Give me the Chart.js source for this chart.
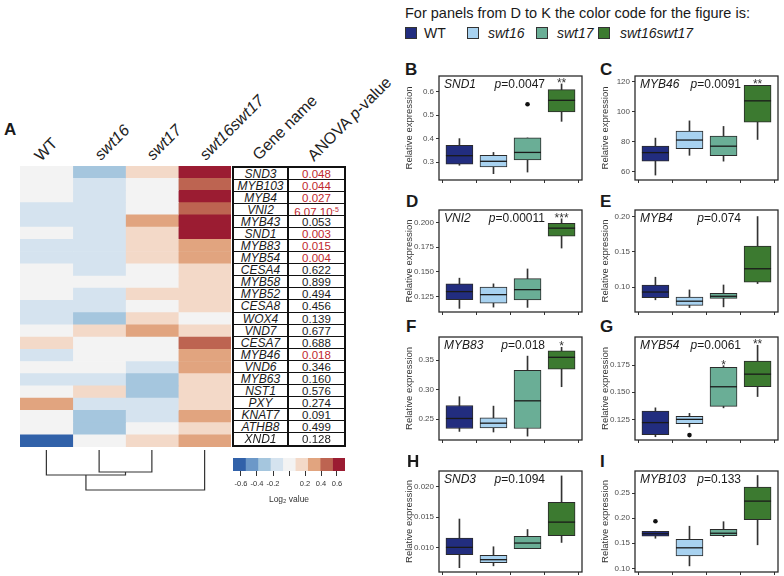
<!DOCTYPE html>
<html>
<head>
<meta charset="utf-8">
<script src="https://cdn.jsdelivr.net/npm/chart.js@4.4.1/dist/chart.umd.min.js"></script>
<style>
  body { margin: 0; width: 784px; height: 576px; position: relative; overflow: hidden; background: #fff;
         font-family: "Liberation Sans", Arial, Helvetica, sans-serif; color: #1a1a1a; }
  .abs { position: absolute; }
  canvas { position: absolute; }
  .hdr { position: absolute; font-size: 16px; line-height: 16px; white-space: nowrap; transform-origin: 0 100%; transform: rotate(-45deg); color: #222; }
  .letter { position: absolute; font-weight: bold; font-size: 17px; line-height: 17px; }
  #table { position: absolute; left: 232px; top: 166px; width: 114px; height: 281px; box-sizing: border-box; border: 2px solid #111; }
  .row { position: absolute; left: 0; width: 110px; box-sizing: border-box; border-top: 1px solid #111; }
  .cell { position: absolute; top: 0; text-align: center; white-space: nowrap; }
  .legend-item { position: absolute; font-size: 14px; line-height: 14px; }
  .sw { position: absolute; width: 10px; height: 10px; border: 1px solid #333; }
</style>
</head>
<body>

<div class="letter" style="left:4px;top:121px;">A</div>
<span class="hdr" style="left:43px;top:148px;">WT</span>
<span class="hdr" style="left:103px;top:147px;font-style:italic;">swt16</span>
<span class="hdr" style="left:155px;top:147px;font-style:italic;">swt17</span>
<span class="hdr" style="left:208px;top:147px;font-style:italic;">swt16swt17</span>
<span class="hdr" style="left:261px;top:147px;">Gene name</span>
<span class="hdr" style="left:316px;top:148px;">ANOVA <i>p</i>-value</span>

<canvas id="heat" width="211" height="281" style="left:20px;top:166px;"></canvas>
<canvas id="dendro" width="211" height="53" style="left:20px;top:447px;"></canvas>
<div id="table"></div>
<canvas id="cbar" width="130" height="50" style="left:225px;top:455px;"></canvas>

<div class="abs" style="left:405px;top:5px;font-size:14.5px;white-space:nowrap;">For panels from D to K the color code for the figure is:</div>
<div class="sw" style="left:405px;top:27px;background:#222d7f;"></div>
<div class="legend-item" style="left:424px;top:26px;">WT</div>
<div class="sw" style="left:467px;top:27px;background:#a8d2f0;"></div>
<div class="legend-item" style="left:488px;top:26px;font-style:italic;">swt16</div>
<div class="sw" style="left:536px;top:27px;background:#6aae96;"></div>
<div class="legend-item" style="left:557px;top:26px;font-style:italic;">swt17</div>
<div class="sw" style="left:598px;top:27px;background:#3c7a30;"></div>
<div class="legend-item" style="left:620px;top:26px;font-style:italic;">swt16swt17</div>

<div class="letter" style="left:405px;top:61px;">B</div>
<div class="letter" style="left:600px;top:61px;">C</div>
<div class="letter" style="left:406px;top:193px;">D</div>
<div class="letter" style="left:600px;top:193px;">E</div>
<div class="letter" style="left:406px;top:318px;">F</div>
<div class="letter" style="left:600px;top:318px;">G</div>
<div class="letter" style="left:407px;top:453px;">H</div>
<div class="letter" style="left:600px;top:453px;">I</div>

<canvas id="pB"></canvas><canvas id="pC"></canvas>
<canvas id="pD"></canvas><canvas id="pE"></canvas>
<canvas id="pF"></canvas><canvas id="pG"></canvas>
<canvas id="pH"></canvas><canvas id="pI"></canvas>

<script>
// ---- heatmap data (log2 values) ----
const genes = ['SND3', 'MYB103', 'MYB4', 'VNI2', 'MYB43', 'SND1', 'MYB83', 'MYB54', 'CESA4', 'MYB58', 'MYB52', 'CESA8',
  'WOX4', 'VND7', 'CESA7', 'MYB46', 'VND6', 'MYB63', 'NST1', 'PXY', 'KNAT7', 'ATHB8', 'XND1'];
const anovaP = [0.048, 0.044, 0.027, 6.07e-5, 0.053, 0.003, 0.015, 0.004, 0.622, 0.899, 0.494, 0.456, 0.139, 0.677,
  0.688, 0.018, 0.346, 0.160, 0.576, 0.274, 0.091, 0.499, 0.128];
const samples = ['WT', 'swt16', 'swt17', 'swt16swt17'];
const wtLog2 = [0.02, 0.01, -0.03, -0.15, -0.14, 0.03, -0.16, -0.13, 0.01, 0.02, -0.02, -0.15, -0.12, 0.04,
  0.15, -0.14, 0.01, -0.16, 0.02, 0.31, 0.0, 0.03, -0.62];
const swt16Log2 = [-0.30, -0.15, -0.14, -0.16, -0.13, -0.15, -0.14, -0.16, -0.13, 0.02, -0.15, -0.14, -0.29, 0.14,
  0.01, 0.03, -0.02, -0.15, 0.16, -0.14, -0.31, -0.30, 0.02];
const swt17Log2 = [0.15, 0.03, 0.01, 0.02, 0.31, 0.16, 0.14, 0.15, 0.02, -0.01, 0.14, 0.03, 0.15, 0.30,
  0.01, 0.02, -0.15, -0.30, -0.31, -0.14, -0.16, 0.01, 0.15];
const dblLog2 = [0.63, 0.46, 0.62, 0.47, 0.64, 0.62, 0.31, 0.30, 0.16, 0.15, 0.14, 0.16, 0.03, 0.15,
  0.47, 0.31, 0.30, 0.15, 0.14, 0.16, 0.32, 0.15, 0.30];
// dendrogram merges: [child, child, height]; 0-3 are leaves, 4+ are earlier merges
const dendroMerges = [[1, 2, 2.5], [0, 4, 2.8], [5, 3, 4.3]];
// colour key
const keyBreaks = [-0.7, -0.544, -0.389, -0.233, -0.078, 0.078, 0.233, 0.389, 0.544, 0.7];
const keyTicks = [-0.6, -0.4, -0.2, 0, 0.2, 0.4, 0.6];

// ---- boxplot data: [min, q1, median, q3, max] per genotype; outliers: [genotype 1-4, value] ----
const snd1Box = [[0.286, 0.291, 0.327, 0.371, 0.400], [0.250, 0.279, 0.303, 0.329, 0.341],
  [0.257, 0.309, 0.341, 0.403, 0.403], [0.474, 0.514, 0.564, 0.610, 0.634]];
const snd1Out = [[3, 0.547]];
const myb46Box = [[57.8, 67.1, 72.8, 77.2, 82.5], [71.0, 75.4, 81.2, 87.2, 94.0],
  [67.1, 70.7, 77.1, 83.9, 90.3], [81.6, 93.1, 107.4, 117.8, 117.8]];
const vni2Box = [[0.1127, 0.1216, 0.1298, 0.1377, 0.1435], [0.1140, 0.1181, 0.1267, 0.1343, 0.1377],
  [0.1137, 0.1212, 0.1318, 0.1431, 0.1529], [0.1742, 0.1862, 0.1945, 0.1993, 0.2040]];
const myb4Box = [[0.082, 0.085, 0.093, 0.103, 0.114], [0.071, 0.074, 0.080, 0.086, 0.096],
  [0.072, 0.084, 0.087, 0.091, 0.103], [0.105, 0.107, 0.126, 0.158, 0.200]];
const myb83Box = [[0.229, 0.234, 0.251, 0.273, 0.288], [0.228, 0.235, 0.243, 0.252, 0.272],
  [0.221, 0.234, 0.281, 0.333, 0.357], [0.305, 0.335, 0.355, 0.366, 0.372]];
const myb54Box = [[0.109, 0.111, 0.122, 0.1326, 0.1356], [0.118, 0.121, 0.125, 0.1277, 0.1305],
  [0.1356, 0.137, 0.155, 0.1729, 0.1744], [0.146, 0.155, 0.1666, 0.1786, 0.1932]];
const myb54Out = [[2, 0.1105]];
const snd3Box = [[0.0068, 0.0089, 0.0101, 0.0116, 0.0147], [0.0071, 0.0076, 0.0081, 0.0088, 0.0102],
  [0.0099, 0.0099, 0.0108, 0.0119, 0.0130], [0.0109, 0.0120, 0.0142, 0.0174, 0.0217]];
const myb103Box = [[0.160, 0.164, 0.169, 0.174, 0.174], [0.105, 0.125, 0.141, 0.158, 0.184],
  [0.163, 0.165, 0.170, 0.178, 0.193], [0.147, 0.197, 0.234, 0.262, 0.285]];
const myb103Out = [[1, 0.194]];

const FONT = '"Liberation Sans", Arial, Helvetica, sans-serif';
Chart.defaults.font.family = FONT;
Chart.defaults.animation = false;
Chart.defaults.plugins.legend.display = false;
Chart.defaults.plugins.tooltip.enabled = false;

const heatColors = ['#3161a9', '#6c98c8', '#a5c6de', '#d5e3ef', '#f3f3f3', '#f3d9c8', '#e1a47f', '#bd6451', '#9b1c32'];
const boxColors = ['#222d7f', '#a8d2f0', '#6aae96', '#3c7a30'];

function colorOf(v) {
  for (let k = 0; k < heatColors.length; k++) {
    if (v < keyBreaks[k + 1]) return heatColors[k];
  }
  return heatColors[heatColors.length - 1];
}

// ---- heatmap ----
const heatCols = [wtLog2, swt16Log2, swt17Log2, dblLog2];
new Chart(document.getElementById('heat'), {
  type: 'bar',
  data: {
    labels: genes,
    datasets: heatCols.map((col, j) => ({
      label: samples[j],
      data: genes.map(() => [j, j + 1]),
      backgroundColor: col.map(colorOf),
      borderWidth: 0,
      grouped: false,
      barPercentage: 1,
      categoryPercentage: 1
    }))
  },
  options: {
    responsive: false,
    indexAxis: 'y',
    layout: { padding: 0, autoPadding: false },
    scales: {
      x: { type: 'linear', min: 0, max: 4, display: false },
      y: { display: false }
    }
  }
});

// ---- dendrogram ----
const nodeX = [0.5, 1.5, 2.5, 3.5];
const nodeH = [0.3, 0.3, 0.3, 0.3];
const dendroSets = [];
dendroMerges.forEach(([a, b, h]) => {
  dendroSets.push({
    data: [{ x: nodeX[a], y: nodeH[a] }, { x: nodeX[a], y: h }, { x: nodeX[b], y: h }, { x: nodeX[b], y: nodeH[b] }],
    borderColor: '#333', borderWidth: 1.2, pointRadius: 0, tension: 0
  });
  nodeX.push((nodeX[a] + nodeX[b]) / 2);
  nodeH.push(h);
});
new Chart(document.getElementById('dendro'), {
  type: 'line',
  data: { datasets: dendroSets },
  options: {
    responsive: false,
    layout: { padding: 0, autoPadding: false },
    scales: {
      x: { type: 'linear', min: 0, max: 4, display: false },
      y: { type: 'linear', min: 0, max: 5.3, reverse: true, display: false }
    }
  }
});

// ---- gene / p-value table ----
const table = document.getElementById('table');
const rowH = 277 / genes.length;
genes.forEach((g, i) => {
  const r = document.createElement('div');
  r.className = 'row';
  r.style.top = (i * rowH - (i ? 1 : 0)) + 'px';
  r.style.height = rowH + 'px';
  if (i === 0) r.style.borderTop = 'none';
  const p = anovaP[i];
  let ptxt;
  if (p < 0.001) {
    const e = Math.floor(Math.log10(p));
    ptxt = (p / Math.pow(10, e)).toFixed(2) + ' 10<sup style="font-size:7px;vertical-align:4px;">' + e + '</sup>';
  } else ptxt = p.toFixed(3);
  const red = p < 0.05 ? 'color:#c0272d;' : '';
  r.innerHTML =
    '<div class="cell" style="left:0;width:55px;font-style:italic;font-size:12px;line-height:' + rowH + 'px;border-right:2px solid #111;height:' + rowH + 'px;box-sizing:border-box;">' + g + '</div>' +
    '<div class="cell" style="left:55px;width:55px;font-size:11.5px;line-height:' + rowH + 'px;' + red + '">' + ptxt + '</div>';
  table.appendChild(r);
});

// ---- colour key ----
new Chart(document.getElementById('cbar'), {
  type: 'bar',
  data: {
    labels: [''],
    datasets: heatColors.map((c, k) => ({
      data: [[keyBreaks[k], keyBreaks[k + 1]]],
      backgroundColor: c,
      borderWidth: 0,
      grouped: false,
      barPercentage: 1,
      categoryPercentage: 1
    }))
  },
  options: {
    responsive: false,
    indexAxis: 'y',
    layout: { padding: { left: 8, right: 10, top: 3, bottom: 0 }, autoPadding: false },
    scales: {
      x: {
        type: 'linear', min: -0.7, max: 0.7,
        afterBuildTicks: s => { s.ticks = keyTicks.map(v => ({ value: v })); },
        afterFit: s => { s.height = 34; s.paddingLeft = 0; s.paddingRight = 0; },
        border: { display: false },
        grid: { drawOnChartArea: false, drawTicks: true, tickLength: 5, color: '#333' },
        ticks: { font: { size: 7.5 }, color: '#333', padding: 3, maxRotation: 0, autoSkip: false,
          callback: v => v === 0 ? '' : v.toFixed(1) },
        title: { display: true, text: 'Log\u2082 value', font: { size: 8.5 }, color: '#333', padding: { top: 3, bottom: 0 } }
      },
      y: { display: false }
    }
  }
});

// ---- boxplot panels ----
const colLeft = [439, 635], colRight = [582, 778], colAxisW = [39, 39];
const rowTop = [76, 210, 337, 471], rowBottom = [180, 312, 440, 572];

const framePlugin = {
  id: 'frame',
  afterDraw(chart, args, opts) {
    const { ctx, chartArea: a, scales } = chart;
    ctx.save();
    ctx.strokeStyle = '#2b2b2b';
    ctx.lineWidth = 1.3;
    ctx.strokeRect(a.left, a.top, a.right - a.left, a.bottom - a.top);
    ctx.fillStyle = '#1a1a1a';
    ctx.textBaseline = 'alphabetic';
    const base = a.top + 11.5;
    ctx.font = 'italic 12px ' + FONT;
    ctx.fillText(opts.gene, a.left + 5, base);
    ctx.font = '12px ' + FONT;
    const rest = '=' + opts.p;
    const w = ctx.measureText(rest).width;
    const xEnd = a.left + 106;
    ctx.fillText(rest, xEnd - w, base);
    ctx.font = 'italic 12px ' + FONT;
    ctx.textAlign = 'right';
    ctx.fillText('p', xEnd - w, base);
    ctx.textAlign = 'center';
    ctx.font = '12px ' + FONT;
    ctx.fillStyle = '#333';
    (opts.stars || []).forEach(([i, s]) => {
      const st = opts.stats[i - 1];
      ctx.fillText(s, scales.x.getPixelForValue(i), scales.y.getPixelForValue(st[4]) + 3);
    });
    ctx.restore();
  }
};

function boxPanel(id, col, row, stats, outliers, yMin, yMax, yTicks, dec, gene, pText, stars) {
  const el = document.getElementById(id);
  const axisW = colAxisW[col];
  el.width = axisW + (colRight[col] - colLeft[col]) + 4;
  el.height = (rowBottom[row] - rowTop[row]) + 12;
  el.style.left = (colLeft[col] - axisW) + 'px';
  el.style.top = (rowTop[row] - 4) + 'px';
  new Chart(el, {
    type: 'bar',
    data: {
      datasets: [
        { type: 'bar', data: stats.map((s, i) => ({ x: i + 1, y: [s[0], s[4]] })), backgroundColor: '#333',
          barThickness: 1, grouped: false, order: 3, borderWidth: 0 },
        { type: 'bar', data: stats.map((s, i) => ({ x: i + 1, y: [s[1], s[3]] })), backgroundColor: boxColors,
          borderColor: '#2b2b2b', borderWidth: 1, borderSkipped: false, barThickness: 27, grouped: false, order: 2 },
        { type: 'line', data: stats.map((s, i) => ({ x: i + 1, y: s[2] })), showLine: false, pointStyle: 'line',
          pointRadius: 13.5, pointBorderColor: '#1a1a1a', pointBorderWidth: 1.3, order: 1 },
        { type: 'line', data: outliers.map(o => ({ x: o[0], y: o[1] })), showLine: false, pointStyle: 'circle',
          pointRadius: 2.3, pointBackgroundColor: '#111', pointBorderWidth: 0, order: 0 }
      ]
    },
    options: {
      responsive: false,
      layout: { padding: { top: 4, right: 4, left: 0, bottom: 0 }, autoPadding: false },
      scales: {
        x: {
          type: 'linear', min: 0.4, max: 4.6, offset: false,
          afterBuildTicks: s => { s.ticks = [1, 2, 3, 4].map(v => ({ value: v })); },
          afterFit: s => { s.height = 8; s.paddingLeft = 0; s.paddingRight = 0; },
          border: { display: false },
          grid: { drawOnChartArea: false, drawTicks: true, tickLength: 3, color: '#333' },
          ticks: { display: false }
        },
        y: {
          min: yMin, max: yMax,
          afterBuildTicks: s => { s.ticks = yTicks.map(v => ({ value: v })); },
          afterFit: s => { s.width = axisW; s.paddingTop = 0; s.paddingBottom = 0; },
          border: { display: false },
          grid: { drawOnChartArea: false, drawTicks: true, tickLength: 3, color: '#333' },
          ticks: { font: { size: 8 }, color: '#4d4d4d', padding: 2, callback: v => v.toFixed(dec) },
          title: { display: true, text: 'Relative expression', font: { size: 9.5 }, color: '#333', padding: { top: 4, bottom: 0 } }
        }
      },
      plugins: { frame: { gene: gene, p: pText, stars: stars, stats: stats } }
    },
    plugins: [framePlugin]
  });
}

boxPanel('pB', 0, 0, snd1Box, snd1Out, 0.223, 0.668, [0.3, 0.4, 0.5, 0.6], 1, 'SND1', '0.0047', [[4, '**']]);
boxPanel('pC', 1, 0, myb46Box, [], 54.5, 124, [60, 80, 100, 120], 0, 'MYB46', '0.0091', [[4, '**']]);
boxPanel('pD', 0, 1, vni2Box, [], 0.109, 0.213, [0.125, 0.15, 0.175, 0.2], 3, 'VNI2', '0.00011', [[4, '***']]);
boxPanel('pE', 1, 1, myb4Box, [], 0.0647, 0.2093, [0.10, 0.15, 0.20], 2, 'MYB4', '0.074', []);
boxPanel('pF', 0, 2, myb83Box, [], 0.2144, 0.3895, [0.25, 0.30, 0.35], 2, 'MYB83', '0.018', [[4, '*']]);
boxPanel('pG', 1, 2, myb54Box, myb54Out, 0.106, 0.2008, [0.125, 0.150, 0.175], 3, 'MYB54', '0.0061', [[3, '*'], [4, '**']]);
boxPanel('pH', 0, 3, snd3Box, [], 0.0061, 0.0225, [0.010, 0.015, 0.020], 3, 'SND3', '0.1094', []);
boxPanel('pI', 1, 3, myb103Box, myb103Out, 0.0928, 0.294, [0.10, 0.15, 0.20, 0.25], 2, 'MYB103', '0.133', []);
</script>
</body>
</html>
